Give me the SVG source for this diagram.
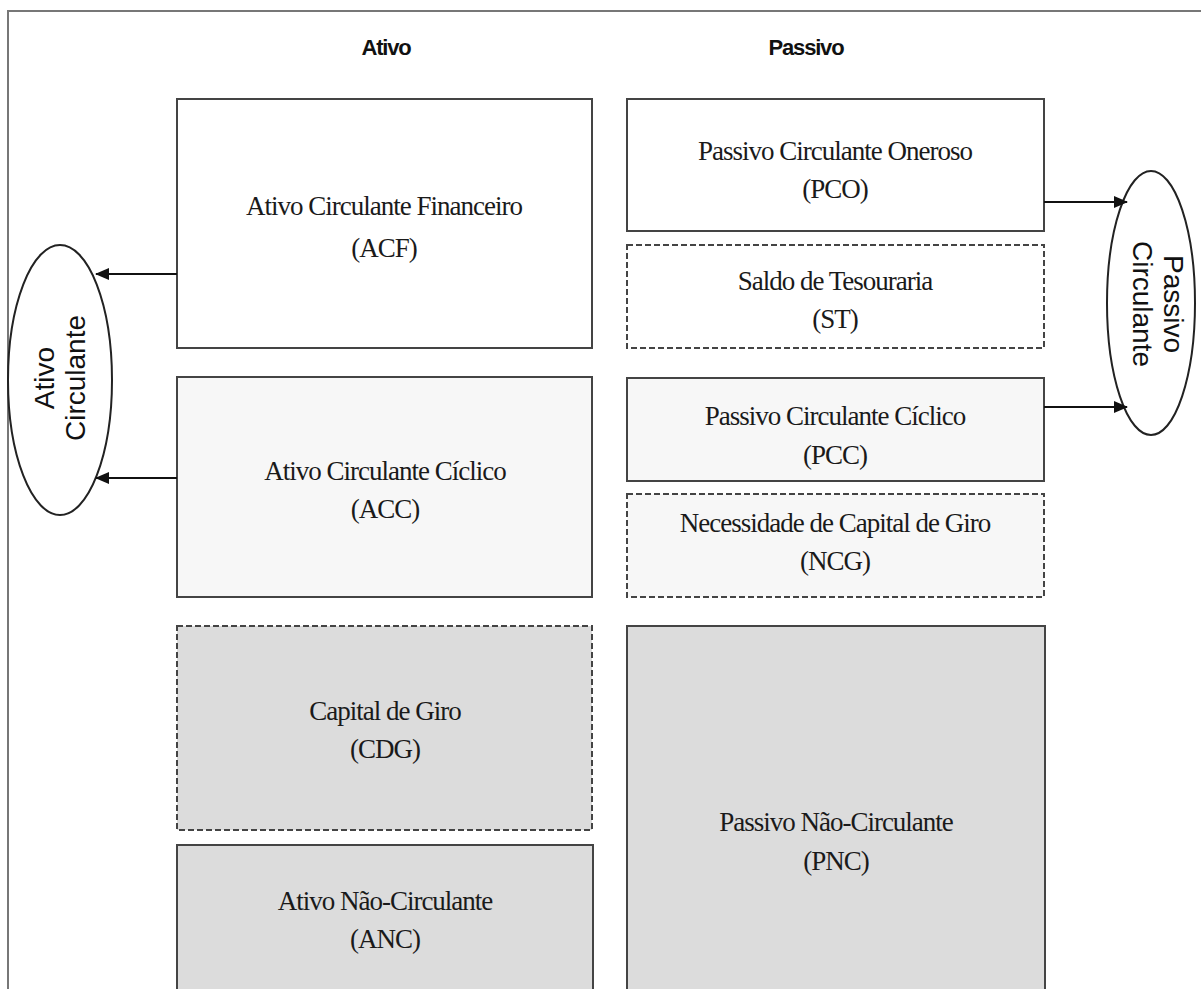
<svg xmlns="http://www.w3.org/2000/svg" width="1201" height="989" viewBox="0 0 1201 989">
<style>
.box{stroke:#444;stroke-width:2}
.dash{stroke-dasharray:6 3}
.w{fill:#ffffff}
.l{fill:#f7f7f7}
.g{fill:#dcdcdc}
.t{font-family:"Liberation Serif",serif;font-size:27px;letter-spacing:-1px;fill:#1a1a1a;text-anchor:middle}
.h{font-family:"Liberation Sans",Arial,sans-serif;font-size:22px;font-weight:bold;letter-spacing:-1.2px;fill:#111;text-anchor:middle}
.e{font-family:"Liberation Sans",Arial,sans-serif;font-size:28px;fill:#111;text-anchor:middle}
.c{stroke:#111;stroke-width:2;fill:none}
</style>
<defs>
<marker id="ah" markerWidth="14" markerHeight="12" refX="13" refY="6" orient="auto" markerUnits="userSpaceOnUse">
<path d="M0,0 L14,6 L0,12 Z" fill="#111"/>
</marker>
</defs>
<rect x="0" y="0" width="1201" height="989" fill="#fff"/>
<rect x="8" y="11" width="1200" height="1000" fill="none" stroke="#777" stroke-width="2"/>
<g id="titles">
<text class="h" x="386" y="55">Ativo</text>
<text class="h" x="806" y="55">Passivo</text>
</g>
<g id="ACF"><rect class="box w" x="177" y="99" width="415" height="249"/>
<text class="t" x="384" y="215">Ativo Circulante Financeiro</text><text class="t" x="384" y="257">(ACF)</text></g>
<g id="ACC"><rect class="box l" x="177" y="377" width="415" height="220"/>
<text class="t" x="385" y="480">Ativo Circulante Cíclico</text><text class="t" x="385" y="518">(ACC)</text></g>
<g id="CDG"><rect class="box g dash" x="177" y="626" width="415" height="204"/>
<text class="t" x="385" y="720">Capital de Giro</text><text class="t" x="385" y="758">(CDG)</text></g>
<g id="ANC"><rect class="box g" x="177" y="845" width="416" height="160"/>
<text class="t" x="385" y="910">Ativo Não-Circulante</text><text class="t" x="385" y="948">(ANC)</text></g>
<g id="PCO"><rect class="box w" x="627" y="99" width="417" height="132"/>
<text class="t" x="835" y="160">Passivo Circulante Oneroso</text><text class="t" x="835" y="198">(PCO)</text></g>
<g id="ST"><rect class="box w dash" x="627" y="245" width="417" height="103"/>
<text class="t" x="835" y="290">Saldo de Tesouraria</text><text class="t" x="835" y="328">(ST)</text></g>
<g id="PCC"><rect class="box l" x="627" y="378" width="417" height="103"/>
<text class="t" x="835" y="425">Passivo Circulante Cíclico</text><text class="t" x="835" y="464">(PCC)</text></g>
<g id="NCG"><rect class="box l dash" x="627" y="494" width="417" height="103"/>
<text class="t" x="835" y="532">Necessidade de Capital de Giro</text><text class="t" x="835" y="570">(NCG)</text></g>
<g id="PNC"><rect class="box g" x="627" y="626" width="418" height="380"/>
<text class="t" x="836" y="831">Passivo Não-Circulante</text><text class="t" x="836" y="870">(PNC)</text></g>
<g id="AtivoCirculante"><ellipse cx="60" cy="380" rx="52" ry="135" fill="#fff" stroke="#222" stroke-width="2"/>
<g transform="translate(60,378) rotate(-90)"><text class="e" x="0" y="-6">Ativo</text><text class="e" x="0" y="25">Circulante</text></g></g>
<g id="PassivoCirculante"><ellipse cx="1151" cy="303" rx="44" ry="132" fill="#fff" stroke="#222" stroke-width="2"/>
<g transform="translate(1151,304) rotate(90)"><text class="e" x="0" y="-13">Passivo</text><text class="e" x="0" y="18">Circulante</text></g></g>
<g id="connectors">
<line class="c" x1="177" y1="274" x2="96" y2="274" marker-end="url(#ah)"/>
<line class="c" x1="177" y1="478" x2="96" y2="478" marker-end="url(#ah)"/>
<line class="c" x1="1044" y1="202" x2="1127" y2="202" marker-end="url(#ah)"/>
<line class="c" x1="1044" y1="407" x2="1127" y2="407" marker-end="url(#ah)"/>
</g>
</svg>
